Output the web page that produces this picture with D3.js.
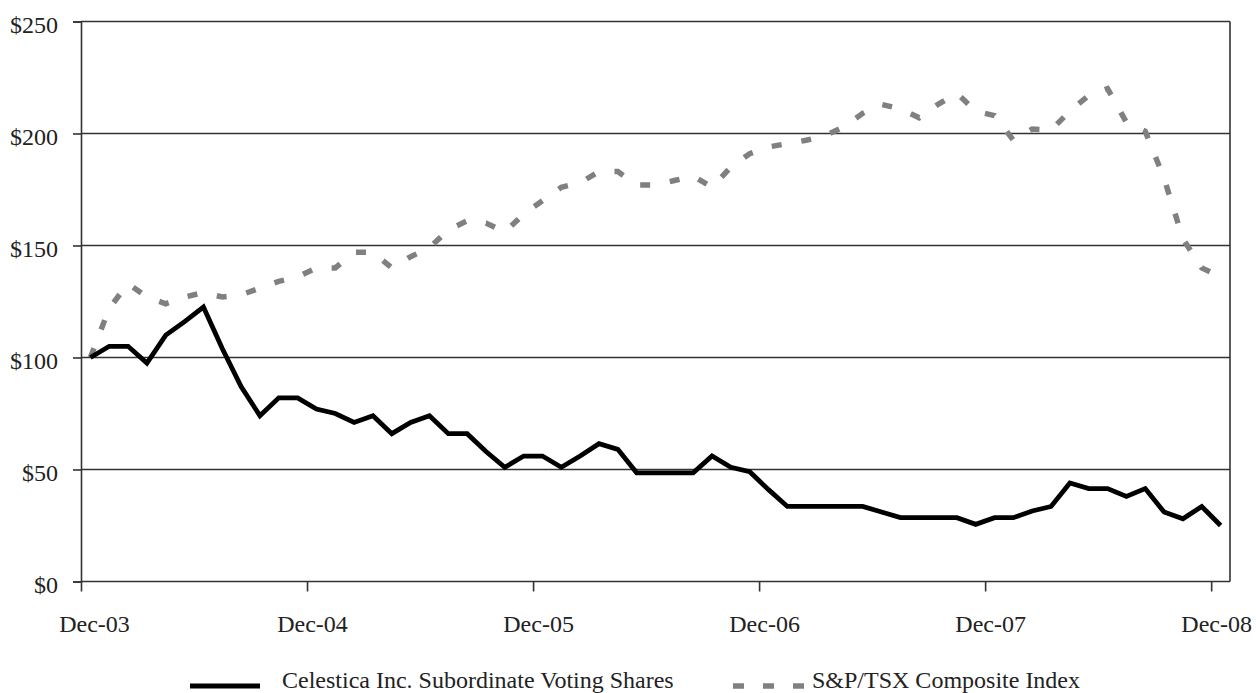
<!DOCTYPE html>
<html>
<head>
<meta charset="utf-8">
<script src="https://cdn.jsdelivr.net/npm/d3@7"></script>
<style>
  html, body { margin: 0; padding: 0; background: #fff; }
  svg { display: block; font-family: "Liberation Serif", "Times New Roman", serif; }
</style>
</head>
<body>
<svg id="chart" width="1256" height="693"></svg>
<script>
// ---- data (monthly, Dec-03 .. Dec-08, index 0..60) ----
const seriesNames = ["Celestica Inc. Subordinate Voting Shares", "S&P/TSX Composite Index"];
const celestica = [100, 105, 105, 97.5, 110, 116, 122.5, 104, 87, 74, 82, 82, 77, 75, 71, 74, 66, 71, 74, 66,
  66, 58, 51, 56, 56, 51, 56, 61.5, 59, 48.5, 48.5, 48.5, 48.5, 56, 51, 49, 41, 33.5, 33.5, 33.5,
  33.5, 33.5, 31, 28.5, 28.5, 28.5, 28.5, 25.5, 28.5, 28.5, 31.5, 33.5, 44, 41.5, 41.5, 38, 41.5, 31, 28, 33.5, 25];
const tsx = [100, 122, 133, 127, 124, 127, 129, 127, 128, 131, 134, 136, 140, 140, 147, 147, 140, 145, 149, 157,
  161, 160, 156, 164, 170, 176, 178, 183, 183, 177, 177, 179, 181, 176, 185, 191, 194, 195.5, 197, 199,
  203, 209, 213, 211, 207, 213, 218, 210, 208, 197, 202, 201.5, 210, 217, 220, 205, 201, 180, 153, 140, 136];
const xTickIndex = [-0.5, 11.5, 23.5, 35.5, 47.5, 59.5];
const xTickLabels = ["Dec-03", "Dec-04", "Dec-05", "Dec-06", "Dec-07", "Dec-08"];
const yTicks = [0, 50, 100, 150, 200, 250];

// ---- layout ----
const svg = d3.select("#chart");
const plotL = 81, plotR = 1230, plotT = 21.5, plotB = 581.5;
const x = d3.scaleLinear().domain([-0.5, 60.5]).range([plotL, plotR]);
const y = d3.scaleLinear().domain([0, 250]).range([plotB, plotT]);
const axisColor = "#333";
const fontSize = 24;

svg.append("rect").attr("width", 1256).attr("height", 693).attr("fill", "#fff");

// gridlines
svg.append("g").selectAll("line").data(yTicks.filter(d => d > 0)).join("line")
  .attr("x1", plotL).attr("x2", plotR)
  .attr("y1", d => y(d)).attr("y2", d => y(d))
  .attr("stroke", axisColor).attr("stroke-width", 1.6);

// right border
svg.append("line").attr("x1", plotR).attr("x2", plotR).attr("y1", plotT).attr("y2", plotB)
  .attr("stroke", axisColor).attr("stroke-width", 1.6);

// y axis
const yAxis = d3.axisLeft(y).tickValues(yTicks).tickSize(8).tickPadding(15)
  .tickFormat(d => "$" + d);
const gy = svg.append("g").attr("transform", `translate(${plotL},0)`).call(yAxis);
gy.select(".domain").attr("stroke", axisColor).attr("stroke-width", 1.6);
gy.selectAll(".tick line").attr("stroke", axisColor).attr("stroke-width", 1.6);
gy.selectAll(".tick text").attr("font-size", fontSize).attr("font-family", "Liberation Serif")
  .attr("fill", "#222").attr("dy", "0.45em");

// x axis
const xAxis = d3.axisBottom(x).tickValues(xTickIndex).tickSize(10).tickPadding(0)
  .tickFormat((d, i) => xTickLabels[i]);
const gx = svg.append("g").attr("transform", `translate(0,${plotB})`).call(xAxis);
gx.select(".domain").attr("stroke", axisColor).attr("stroke-width", 1.6).attr("d", `M${plotL},0H${plotR}`);
gx.selectAll(".tick line").attr("stroke", axisColor).attr("stroke-width", 1.6);
gx.selectAll(".tick text").attr("font-size", fontSize).attr("font-family", "Liberation Serif")
  .attr("fill", "#222").attr("y", 50).attr("dy", 0)
  .attr("dx", (d, i) => i === 0 ? 13 : 5);

// lines
const line = d3.line().x((d, i) => x(i)).y(d => y(d));
svg.append("path").datum(tsx).attr("d", line)
  .attr("fill", "none").attr("stroke", "#808080").attr("stroke-width", 5.5)
  .attr("stroke-dasharray", "10,20").attr("stroke-linejoin", "miter");
svg.append("path").datum(celestica).attr("d", line)
  .attr("fill", "none").attr("stroke", "#000").attr("stroke-width", 4.8)
  .attr("stroke-linejoin", "miter");

// legend
const legY = 686;
svg.append("line").attr("x1", 190).attr("x2", 260).attr("y1", legY).attr("y2", legY)
  .attr("stroke", "#000").attr("stroke-width", 5);
svg.append("text").attr("x", 282).attr("y", 688).attr("font-size", fontSize).attr("fill", "#222")
  .text(seriesNames[0]);
svg.append("line").attr("x1", 733).attr("x2", 806).attr("y1", legY).attr("y2", legY)
  .attr("stroke", "#808080").attr("stroke-width", 5.5).attr("stroke-dasharray", "11,19");
svg.append("text").attr("x", 812).attr("y", 688).attr("font-size", fontSize).attr("fill", "#222")
  .text(seriesNames[1]);
</script>
</body>
</html>
